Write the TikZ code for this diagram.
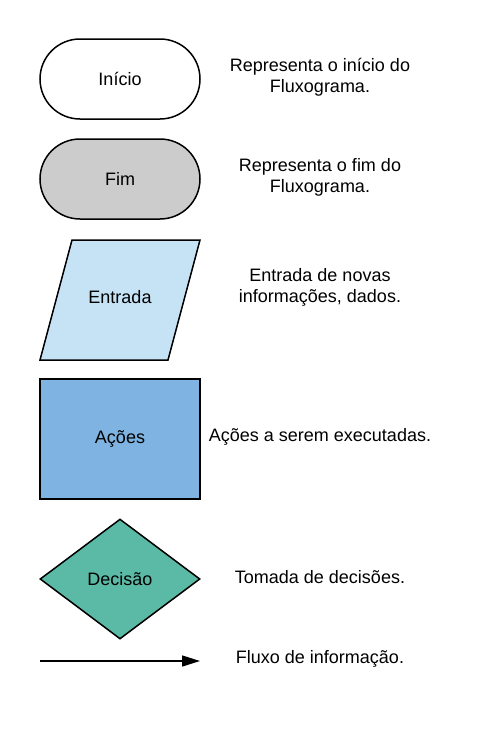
\documentclass[tikz,border=0pt]{standalone}
\usepackage{fontspec}
\setmainfont{Liberation Sans}
\usetikzlibrary{shapes.geometric,arrows.meta}
\definecolor{fimC}{HTML}{CCCCCC}
\definecolor{entradaC}{HTML}{C6E3F6}
\definecolor{acoesC}{HTML}{7FB3E1}
\definecolor{decisaoC}{HTML}{5BBAA5}
\begin{document}
\begin{tikzpicture}[x=1pt,y=-1pt,
  shp/.style={draw=black,line width=1.5pt,inner sep=0pt},
  lbl/.style={font=\fontsize{18}{21}\selectfont,align=center,text=black},
]
\useasboundingbox[fill=white] (0,0) rectangle (480,732);
% shapes
\node[shp,lbl,rectangle,rounded corners=40pt,minimum width=160pt,minimum height=80pt,fill=white] (inicio) at (120,79) {Início};
\node[shp,lbl,rectangle,rounded corners=40pt,minimum width=160pt,minimum height=80pt,fill=fimC] (fim) at (120,179) {Fim};
\draw[shp,fill=entradaC,line join=miter] (72,240) -- (200,240) -- (168,360) -- (40,360) -- cycle;
\node[lbl] (entrada) at (120,297) {Entrada};
\node[shp,lbl,rectangle,minimum width=160pt,minimum height=120pt,fill=acoesC] (acoes) at (120,439) {Ações};
\node[shp,lbl,diamond,minimum width=160pt,minimum height=120pt,fill=decisaoC] (decisao) at (120,579) {Decisão};
\coordinate (a0) at (40,661);
\coordinate (a1) at (200,661);
\draw[line width=1.5pt,-{Triangle[length=18pt,width=11pt]}] (a0) -- (a1);
% descriptions
\node[lbl] (d1) at (320,77) {Representa o início do\\Fluxograma.};
\node[lbl] (d2) at (320,177) {Representa o fim do\\Fluxograma.};
\node[lbl] (d3) at (320,287) {Entrada de novas\\informações, dados.};
\node[lbl] (d4) at (320,437) {Ações a serem executadas.};
\node[lbl] (d5) at (320,577) {Tomada de decisões.};
\node[lbl] (d6) at (320,659) {Fluxo de informação.};
\end{tikzpicture}
\end{document}
